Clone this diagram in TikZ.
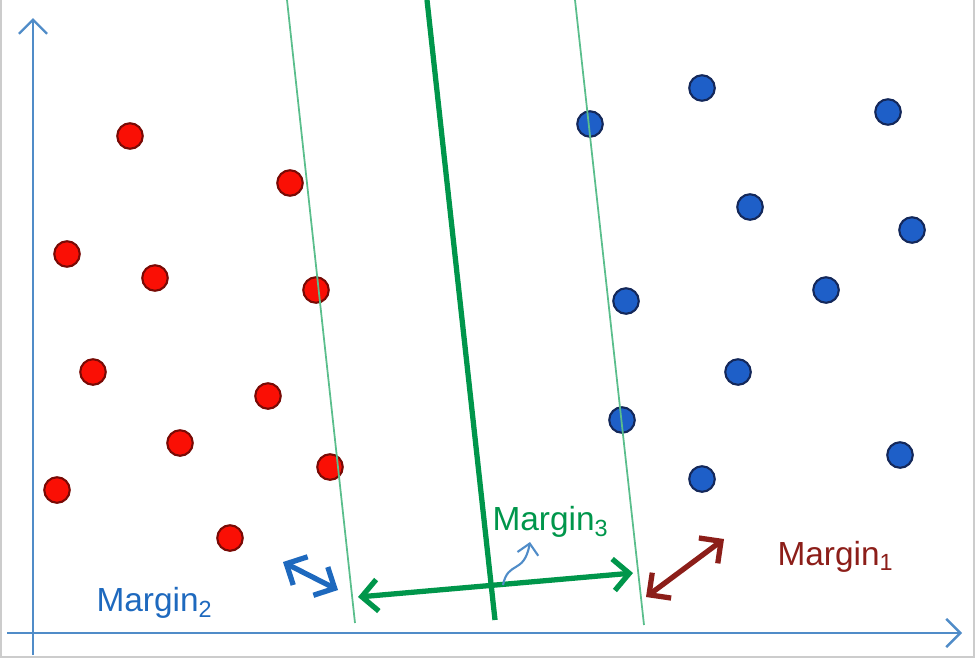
\documentclass[tikz,border=0pt]{standalone}
\usepackage{fontspec}
\setmainfont{Liberation Sans}
\usetikzlibrary{arrows.meta}

\definecolor{ptred}{RGB}{250,15,5}
\definecolor{ptredline}{RGB}{120,10,5}
\definecolor{ptblue}{RGB}{30,95,200}
\definecolor{ptblueline}{RGB}{20,40,90}
\definecolor{axisblue}{RGB}{80,140,200}
\definecolor{hypgreen}{RGB}{0,150,75}
\definecolor{thingreen}{RGB}{90,190,140}
\definecolor{mblue}{RGB}{30,105,190}
\definecolor{mred}{RGB}{140,30,25}

\tikzset{
  redpt/.style = {circle, draw = ptredline, fill = ptred, line width = 0.6pt,
                  minimum size = 0.255cm, inner sep = 0},
  bluept/.style = {circle, draw = ptblueline, fill = ptblue, line width = 0.6pt,
                   minimum size = 0.255cm, inner sep = 0},
  axis/.style = {axisblue, line width = 0.7pt, -{Straight Barb[length=4pt,width=8pt]}},
  marginline/.style = {thingreen, line width = 0.5pt},
  twohead/.style = {line width = 1.5pt,
                    {Straight Barb[length=4.5pt,width=9pt]}-{Straight Barb[length=4.5pt,width=9pt]}},
  mlabel/.style = {inner sep = 0, font = \fontsize{9.5}{11}\selectfont}
}

\begin{document}
\begin{tikzpicture}[x = 0.01cm, y = -0.01cm]
  \useasboundingbox (0,0) rectangle (977,660);

  % frame of the slide
  \draw [gray!40, line width = 0.8pt] (1,0) -- (1,657) -- (974,657) -- (974,0);

  % axes
  \coordinate (xstart) at (7,633);
  \coordinate (xend)   at (962,633);
  \coordinate (ystart) at (33,655);
  \coordinate (yend)   at (33,18);
  \draw [axis] (xstart) -- (xend);
  \draw [axis] (ystart) -- (yend);

  % points
  \foreach \px/\py [count = \i] in {130/136, 290/183, 67/254, 155/278, 316/290, 93/372,
                                    268/396, 180/443, 330/467, 57/490, 230/538}
    \node [redpt] (r\i) at (\px,\py) {};
  \foreach \px/\py [count = \i] in {702/88, 888/112, 590/124, 750/207, 912/230, 826/290,
                                    626/301, 738/372, 622/420, 900/455, 702/479}
    \node [bluept] (b\i) at (\px,\py) {};

  % hyperplane and margins
  \coordinate (lefttop)  at (287,0);
  \coordinate (leftbot)  at (355,623);
  \coordinate (midtop)   at (427,0);
  \coordinate (midbot)   at (495,620);
  \coordinate (righttop) at (575,0);
  \coordinate (rightbot) at (644,625);
  \draw [marginline] (lefttop) -- (leftbot);
  \draw [marginline] (righttop) -- (rightbot);
  \draw [hypgreen, line width = 1.5pt] (midtop) -- (midbot);

  % margin arrows
  \coordinate (gleft)  at (358,597);
  \coordinate (gright) at (633,573);
  \draw [twohead, hypgreen] (gleft) -- (gright);

  \coordinate (bstart) at (283,562);
  \coordinate (bend)   at (338,590);
  \draw [twohead, mblue] (bstart) -- (bend);

  \coordinate (rstart) at (646,597);
  \coordinate (rend)   at (724,539);
  \draw [twohead, mred] (rstart) -- (rend);

  % labels
  \node [mlabel, hypgreen] (m3) at (551,522) {Margin\textsubscript{3}};
  \node [mlabel, mred]     (m1) at (836,557) {Margin\textsubscript{1}};
  \node [mlabel, mblue]    (m2) at (155,603) {Margin\textsubscript{2}};

  \coordinate (wfoot) at (503,585);
  \coordinate (whead) at (530,542);
  \draw [axisblue, line width = 0.6pt, -{Straight Barb[length=3pt,width=6pt]}]
    (wfoot) .. controls (508,560) and (524,575) .. (whead);
\end{tikzpicture}
\end{document}
